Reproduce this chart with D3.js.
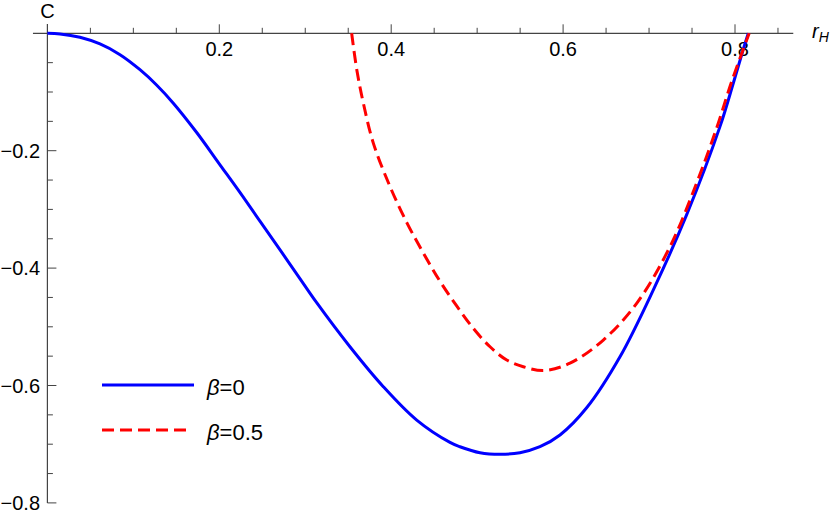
<!DOCTYPE html>
<html>
<head>
<meta charset="utf-8">
<script src="https://cdn.jsdelivr.net/npm/d3@7"></script>
<style>
  body { margin: 0; background: #fff; }
  svg { display: block; font-family: "Liberation Sans", Arial, sans-serif; }
</style>
</head>
<body>
<svg id="chart" width="830" height="513"></svg>
<script>
// values
var beta0R = [0, 0.0147, 0.0379, 0.0612, 0.0845, 0.1077, 0.127, 0.1465, 0.1737, 0.2008, 0.224, 0.2475,
              0.2707, 0.292, 0.3133, 0.352, 0.3908, 0.4297, 0.4684, 0.48, 0.5033, 0.5266, 0.5498,
              0.5731, 0.5964, 0.6274, 0.6662, 0.705, 0.7438, 0.7825, 0.798, 0.8097, 0.8155];
var beta0C = [0, -0.001, -0.0068, -0.0182, -0.0364, -0.062, -0.088, -0.119, -0.169, -0.224, -0.2711, -0.3205,
              -0.369, -0.414, -0.459, -0.534, -0.602, -0.659, -0.697, -0.7043, -0.7145, -0.7172, -0.7145,
              -0.7043, -0.6843, -0.638, -0.551, -0.437, -0.309, -0.159, -0.085, -0.027, 0];

var beta05R = [0.354, 0.36, 0.3676, 0.3792, 0.3986, 0.418, 0.4373, 0.4568, 0.4762, 0.4955,
               0.515, 0.5344, 0.5537, 0.578, 0.608, 0.6468, 0.6856, 0.7244, 0.7554, 0.7787, 0.7962, 0.8165];
var beta05C = [0, -0.0625, -0.119, -0.187, -0.261, -0.322, -0.374, -0.4225, -0.4645, -0.5026,
               -0.534, -0.5566, -0.568, -0.5745, -0.562, -0.5225, -0.46, -0.3635, -0.255, -0.161, -0.0818, 0];

var seriesNames = ["=0", "=0.5"];
var xTickLabels = ["0.2", "0.4", "0.6", "0.8"];
var yTickLabels = ["\u22120.2", "\u22120.4", "\u22120.6", "\u22120.8"];
var xMajor = [0.2, 0.4, 0.6, 0.8];
var yMajor = [-0.2, -0.4, -0.6, -0.8];

var svg = d3.select("#chart");

var x = d3.scaleLinear().domain([0, 0.8]).range([47.4, 735]);
var y = d3.scaleLinear().domain([0, -0.8]).range([33.3, 502.9]);

var axisColor = "#444";

// axes lines
svg.append("line")
    .attr("x1", x(-0.0168)).attr("x2", x(0.8678))
    .attr("y1", y(0)).attr("y2", y(0))
    .attr("stroke", axisColor).attr("stroke-width", 1.2);
svg.append("line")
    .attr("x1", x(0)).attr("x2", x(0))
    .attr("y1", y(0.0158)).attr("y2", y(-0.8))
    .attr("stroke", axisColor).attr("stroke-width", 1.2);

// x ticks (pointing up), minor every 0.05
var xTicks = d3.range(1, 18).map(function(i) { return i * 0.05; });
svg.selectAll("line.xt").data(xTicks).enter().append("line")
    .attr("class", "xt")
    .attr("x1", function(d) { return x(d); })
    .attr("x2", function(d) { return x(d); })
    .attr("y1", y(0))
    .attr("y2", function(d, i) { return y(0) - ((i + 1) % 4 === 0 ? 9 : 5.5); })
    .attr("stroke", axisColor).attr("stroke-width", 1);

// y ticks (pointing right)
var yTicks = d3.range(1, 17).map(function(i) { return -i * 0.05; });
svg.selectAll("line.yt").data(yTicks).enter().append("line")
    .attr("class", "yt")
    .attr("x1", x(0))
    .attr("x2", function(d, i) { return x(0) + ((i + 1) % 4 === 0 ? 9 : 5.5); })
    .attr("y1", function(d) { return y(d); })
    .attr("y2", function(d) { return y(d); })
    .attr("stroke", axisColor).attr("stroke-width", 1);

// tick labels
svg.selectAll("text.xl").data(xMajor).enter().append("text")
    .attr("class", "xl")
    .attr("x", function(d) { return x(d); })
    .attr("y", 56)
    .attr("text-anchor", "middle")
    .attr("font-size", 20)
    .text(function(d, i) { return xTickLabels[i]; });

svg.selectAll("text.yl").data(yMajor).enter().append("text")
    .attr("class", "yl")
    .attr("x", 40)
    .attr("y", function(d) { return y(d) + 7; })
    .attr("text-anchor", "end")
    .attr("font-size", 20)
    .text(function(d, i) { return yTickLabels[i]; });

// axis labels
svg.append("text")
    .attr("x", x(0)).attr("y", 18)
    .attr("text-anchor", "middle")
    .attr("font-size", 20)
    .text("C");

var rl = svg.append("text")
    .attr("x", 812).attr("y", 38)
    .attr("font-size", 20);
rl.append("tspan").attr("font-style", "italic").text("r");
rl.append("tspan").attr("font-style", "italic").attr("font-size", 14).attr("dy", 4).text("H");

// curves
var line = d3.line()
    .x(function(d) { return x(d[0]); })
    .y(function(d) { return y(d[1]); })
    .curve(d3.curveCatmullRom.alpha(0.5));

var blue = d3.zip(beta0R, beta0C);
var red = d3.zip(beta05R, beta05C);

svg.append("path")
    .attr("d", line(blue))
    .attr("fill", "none")
    .attr("stroke", "#0000ff")
    .attr("stroke-width", 3);

svg.append("path")
    .attr("d", line(red))
    .attr("fill", "none")
    .attr("stroke", "#ff0000")
    .attr("stroke-width", 3)
    .attr("stroke-dasharray", "12,6");

// legend
var legend = svg.append("g");
var legendStyles = [
    {color: "#0000ff", dash: null, y: 385},
    {color: "#ff0000", dash: "12,6", y: 430}
];
legendStyles.forEach(function(s, i) {
    legend.append("line")
        .attr("x1", 102).attr("x2", i === 0 ? 194 : 190)
        .attr("y1", s.y).attr("y2", s.y)
        .attr("stroke", s.color)
        .attr("stroke-width", 3)
        .attr("stroke-dasharray", s.dash);
    var t = legend.append("text")
        .attr("x", 207).attr("y", s.y + 10)
        .attr("font-size", 22);
    t.append("tspan").attr("font-style", "italic").text("\u03b2");
    t.append("tspan").text(seriesNames[i]);
});
</script>
</body>
</html>
